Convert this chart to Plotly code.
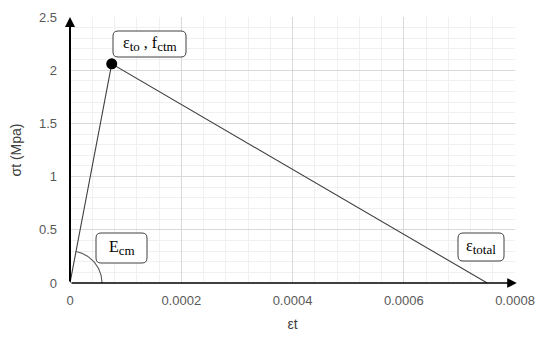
import numpy as np
import plotly.graph_objects as go

# Tensile stress-strain response of concrete (bilinear softening)
strain = [0.0, 0.000075, 0.00075]
stress = [0.0, 2.06, 0.0]

x_ticks = [0, 0.0002, 0.0004, 0.0006, 0.0008]
x_tick_labels = ["0", "0.0002", "0.0004", "0.0006", "0.0008"]
y_ticks = [0, 0.5, 1, 1.5, 2, 2.5]
y_tick_labels = ["0", "0.5", "1", "1.5", "2", "2.5"]

X_MAX, Y_MAX = 0.0008, 2.5
L, R, T, B = 70, 25, 17, 55
W, H = 540, 338
PW, PH = W - L - R, H - T - B

fig = go.Figure()

# stress-strain curve
fig.add_trace(go.Scatter(x=strain, y=stress, mode="lines",
                         line=dict(color="#404040", width=1.1),
                         hoverinfo="skip", showlegend=False))
# peak point (eps_to, f_ctm)
fig.add_trace(go.Scatter(x=[strain[1]], y=[stress[1]], mode="markers",
                         marker=dict(color="black", size=11),
                         showlegend=False))

# arc marking the initial modulus E_cm
r_px = 32
theta_end = np.arctan2(stress[1] * PH / Y_MAX, strain[1] * PW / X_MAX)
th = np.linspace(0, theta_end, 40)
arc_x = r_px * np.cos(th) * X_MAX / PW
arc_y = r_px * np.sin(th) * Y_MAX / PH
fig.add_trace(go.Scatter(x=arc_x, y=arc_y, mode="lines",
                         line=dict(color="#595959", width=1.1),
                         hoverinfo="skip", showlegend=False))


def px_to_data(px, py):
    return (px - L) / PW * X_MAX, (H - B - py) / PH * Y_MAX


def rounded_box(x0, y0, x1, y1, rad=5):
    # pixel-positioned rounded rectangle, anchored at its top-left corner
    ax, ay = px_to_data(x0, y0)
    w, h = x1 - x0, y1 - y0
    path = (f"M {rad},0 L {w - rad},0 Q {w},0 {w},{-rad} "
            f"L {w},{-(h - rad)} Q {w},{-h} {w - rad},{-h} "
            f"L {rad},{-h} Q 0,{-h} 0,{-(h - rad)} "
            f"L 0,{-rad} Q 0,0 {rad},0 Z")
    fig.add_shape(type="path", xref="x", yref="y", xsizemode="pixel",
                  ysizemode="pixel", xanchor=ax, yanchor=ay, path=path,
                  line=dict(color="#404040", width=1), fillcolor="white",
                  layer="above")
    return px_to_data((x0 + x1) / 2, (y0 + y1) / 2)


def sub(s):
    return f"<sub><span style='font-size:13px'>{s}</span></sub>"


serif = "Liberation Serif"
labels = [
    ((113, 31, 186, 57), "ε" + sub("to") + " , f" + sub("ctm")),
    ((96, 233, 147, 263), "E" + sub("cm")),
    ((458, 233, 504, 261), "ε" + sub("total")),
]
for box, text in labels:
    cx, cy = rounded_box(*box)
    fig.add_annotation(x=cx, y=cy, text=text, showarrow=False,
                       font=dict(family=serif, size=16, color="black"),
                       xanchor="center", yanchor="middle")

# axes drawn as arrows
fig.add_annotation(x=X_MAX * 1.004, y=0, ax=0, ay=0, xref="x", yref="y",
                   axref="x", ayref="y", showarrow=True, arrowhead=2,
                   arrowsize=1.2, arrowwidth=1.6, arrowcolor="black", text="")
fig.add_annotation(x=0, y=Y_MAX, ax=0, ay=0, xref="x", yref="y",
                   axref="x", ayref="y", showarrow=True, arrowhead=2,
                   arrowsize=1.0, arrowwidth=2, arrowcolor="black", text="")

tick_font = dict(family="Liberation Sans", size=13, color="#595959")
fig.update_xaxes(range=[0, X_MAX], tickvals=x_ticks, ticktext=x_tick_labels,
                 automargin=False,
                 showgrid=True, gridcolor="#d9d9d9", gridwidth=1,
                 minor=dict(dtick=0.00004, showgrid=True, gridcolor="#f0f0f0"),
                 zeroline=False, showline=False, ticks="",
                 tickfont=tick_font, ticklabelstandoff=8,
                 title=dict(text="εt", font=dict(family="Liberation Sans",
                                                 size=14, color="#404040"),
                            standoff=12))
fig.update_yaxes(range=[0, Y_MAX], tickvals=y_ticks, ticktext=y_tick_labels,
                 automargin=False,
                 showgrid=True, gridcolor="#d9d9d9", gridwidth=1,
                 minor=dict(dtick=0.1, showgrid=True, gridcolor="#f0f0f0"),
                 zeroline=False, showline=False, ticks="",
                 tickfont=tick_font, ticklabelstandoff=12,
                 title=dict(text="σt (Mpa)", font=dict(family="Liberation Sans",
                                                       size=14, color="#404040"),
                            standoff=14))

fig.update_layout(width=W, height=H, margin=dict(l=L, r=R, t=T, b=B),
                  plot_bgcolor="white", paper_bgcolor="white")

fig.write_html("out.html")
